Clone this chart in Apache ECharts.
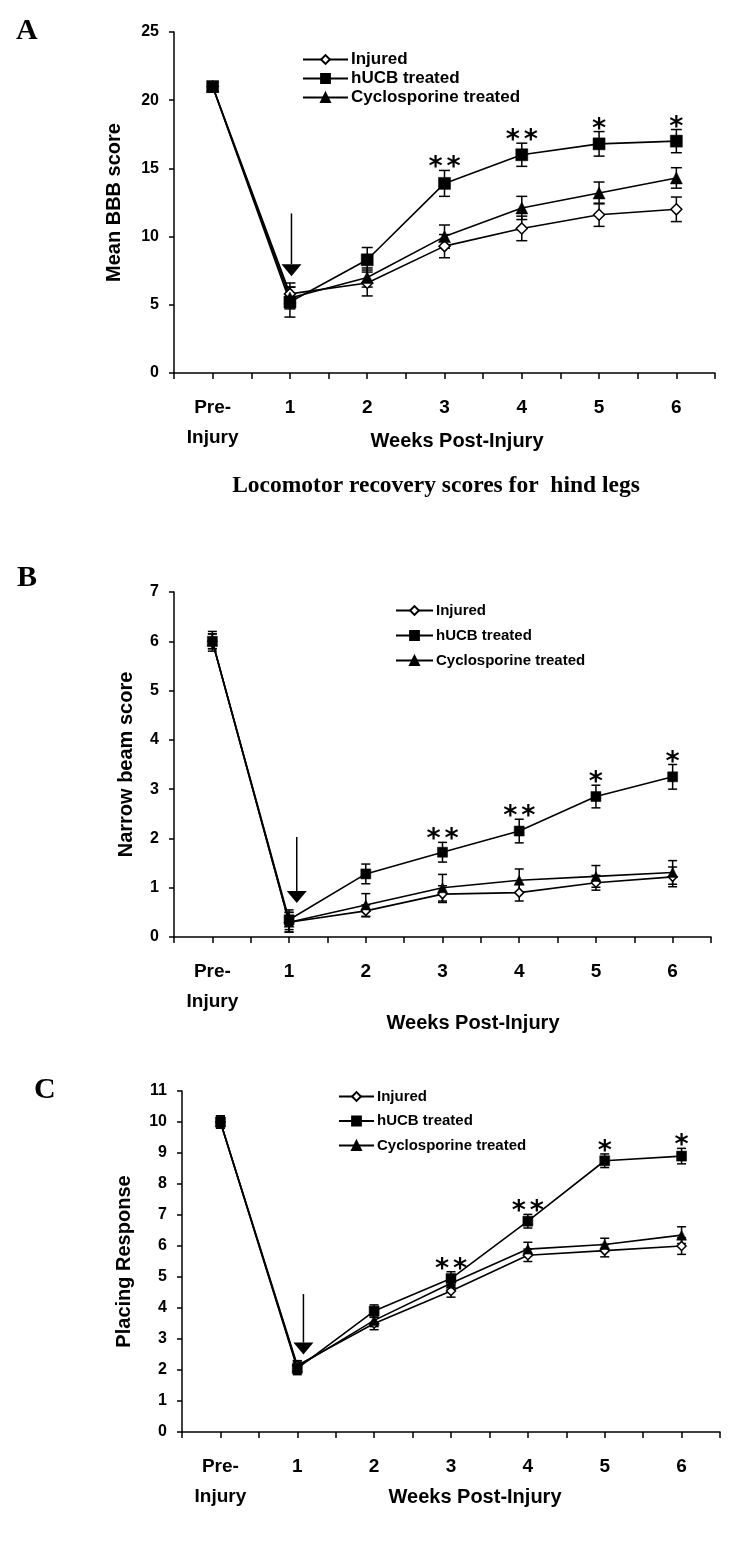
<!DOCTYPE html>
<html>
<head>
<meta charset="utf-8">
<title>Locomotor recovery</title>
<script src="https://cdn.jsdelivr.net/npm/echarts@6.0.0/dist/echarts.min.js"></script>
<style>
    html, body { margin: 0; padding: 0; background: #fff; }
    #main { width: 750px; height: 1567px; }
</style>
</head>
<body>
<div id="main"></div>
<script>
// 横轴 类别
var weeks = ['Pre-\nInjury', '1', '2', '3', '4', '5', '6'];
var groups = ['Injured', 'hUCB treated', 'Cyclosporine treated'];
var stars = ['', '', '', '**', '**', '*', '*'];

// A  Mean BBB score
var bbbInjured = [21, 5.8, 6.6, 9.3, 10.6, 11.6, 12.0];
var bbbInjuredErr = [0.3, 0.8, 0.95, 0.85, 0.9, 0.85, 0.9];
var bbbHucb = [21, 5.2, 8.3, 13.9, 16.0, 16.8, 17.0];
var bbbHucbErr = [0.3, 1.1, 0.9, 0.95, 0.85, 0.9, 0.85];
var bbbCyclo = [21, 5.5, 7.0, 10.0, 12.1, 13.2, 14.3];
var bbbCycloErr = [0.3, 0.8, 0.7, 0.85, 0.85, 0.8, 0.75];
var bbbArrow = [1.52, 11.7, 7.1];   // x, 起点, 箭头尖

// B  Narrow beam score
var beamInjured = [6.0, 0.3, 0.53, 0.87, 0.9, 1.1, 1.22];
var beamInjuredErr = [0.15, 0.2, 0.12, 0.17, 0.17, 0.15, 0.2];
var beamHucb = [6.0, 0.35, 1.28, 1.72, 2.15, 2.85, 3.25];
var beamHucbErr = [0.2, 0.2, 0.2, 0.2, 0.24, 0.23, 0.25];
var beamCyclo = [6.0, 0.3, 0.65, 1.0, 1.15, 1.23, 1.31];
var beamCycloErr = [0.15, 0.2, 0.23, 0.27, 0.23, 0.22, 0.24];
var beamArrow = [1.6, 2.03, 0.69];

// C  Placing Response
var placeInjured = [10.0, 2.15, 3.5, 4.55, 5.7, 5.85, 6.0];
var placeInjuredErr = [0.2, 0.15, 0.2, 0.2, 0.2, 0.2, 0.27];
var placeHucb = [10.0, 2.05, 3.9, 4.95, 6.8, 8.75, 8.9];
var placeHucbErr = [0.2, 0.2, 0.2, 0.22, 0.22, 0.22, 0.25];
var placeCyclo = [10.0, 2.1, 3.6, 4.8, 5.9, 6.05, 6.35];
var placeCycloErr = [0.2, 0.2, 0.2, 0.2, 0.22, 0.2, 0.27];
var placeArrow = [1.58, 4.45, 2.5];

var sans = '"Liberation Sans", Arial, sans-serif';
var serif = '"Liberation Serif", "Times New Roman", serif';

var panels = [
    {
        grid: { left: 174, right: 35, top: 32, height: 341 },
        max: 25, interval: 5, name: 'Mean BBB score', nameGap: 50,
        values: [bbbInjured, bbbHucb, bbbCyclo],
        errs: [bbbInjuredErr, bbbHucbErr, bbbCycloErr],
        arrow: bbbArrow, cap: 5.5, size: 12,
        legend: { left: 302, top: 51, itemGap: 2, itemWidth: 45, fontSize: 17 }
    },
    {
        grid: { left: 174, right: 39, top: 592, height: 345 },
        max: 7, interval: 1, name: 'Narrow beam score', nameGap: 38,
        values: [beamInjured, beamHucb, beamCyclo],
        errs: [beamInjuredErr, beamHucbErr, beamCycloErr],
        arrow: beamArrow, cap: 4.5, size: 10,
        legend: { left: 395, top: 603, itemGap: 10, itemWidth: 37, fontSize: 15 }
    },
    {
        grid: { left: 182, right: 30, top: 1091, height: 341 },
        max: 11, interval: 1, name: 'Placing Response', nameGap: 48,
        values: [placeInjured, placeHucb, placeCyclo],
        errs: [placeInjuredErr, placeHucbErr, placeCycloErr],
        arrow: placeArrow, cap: 4.5, size: 10,
        legend: { left: 338, top: 1089, itemGap: 9.5, itemWidth: 35, fontSize: 15 }
    }
];

var symbols = ['diamond', 'rect', 'triangle'];
var fills = ['#fff', '#000', '#000'];

var grids = [], xAxes = [], yAxes = [], legends = [], series = [];

panels.forEach(function (p, gi) {
    grids.push(p.grid);
    xAxes.push({
        gridIndex: gi,
        type: 'value',
        min: 0,
        max: 7,
        interval: 0.5,
        splitLine: { show: false },
        axisLine: { lineStyle: { color: '#000', width: 1.5 } },
        axisTick: { length: 6, lineStyle: { color: '#000', width: 1.5 } },
        axisLabel: {
            margin: 20,
            color: '#000',
            fontFamily: sans,
            fontWeight: 'bold',
            fontSize: 19,
            lineHeight: 30,
            formatter: function (v) {
                var k = Math.round(v - 0.5);
                if (Math.abs(v - 0.5 - k) < 1e-6 && weeks[k] !== undefined) {
                    return weeks[k];
                }
                return '';
            }
        }
    });
    yAxes.push({
        gridIndex: gi,
        type: 'value',
        min: 0,
        max: p.max,
        interval: p.interval,
        name: p.name,
        nameLocation: 'middle',
        nameGap: p.nameGap,
        nameTextStyle: { color: '#000', fontFamily: sans, fontWeight: 'bold', fontSize: 20 },
        splitLine: { show: false },
        axisLine: { show: true, lineStyle: { color: '#000', width: 1.5 } },
        axisTick: { show: true, length: 5, lineStyle: { color: '#000', width: 1.5 } },
        axisLabel: { margin: 15, color: '#000', fontFamily: sans, fontWeight: 'bold', fontSize: 16 }
    });
    legends.push({
        left: p.legend.left,
        top: p.legend.top,
        padding: 0,
        orient: 'vertical',
        itemGap: p.legend.itemGap,
        itemWidth: p.legend.itemWidth,
        itemHeight: 11,
        selectedMode: false,
        data: groups,
        textStyle: { color: '#000', fontFamily: sans, fontWeight: 'bold', fontSize: p.legend.fontSize, padding: [0, 0, 0, -2] }
    });

    // 误差线
    p.values.forEach(function (vals, si) {
        var err = p.errs[si];
        series.push({
            type: 'custom',
            xAxisIndex: gi,
            yAxisIndex: gi,
            silent: true,
            z: 1,
            data: vals.map(function (v, i) { return [i + 0.5, v, err[i]]; }),
            renderItem: function (params, api) {
                var x = api.value(0), y = api.value(1), e = api.value(2);
                var hi = api.coord([x, y + e]);
                var lo = api.coord([x, y - e]);
                var st = { stroke: '#000', lineWidth: 1.5 };
                return {
                    type: 'group',
                    children: [
                        { type: 'line', shape: { x1: hi[0], y1: hi[1], x2: lo[0], y2: lo[1] }, style: st },
                        { type: 'line', shape: { x1: hi[0] - p.cap, y1: hi[1], x2: hi[0] + p.cap, y2: hi[1] }, style: st },
                        { type: 'line', shape: { x1: lo[0] - p.cap, y1: lo[1], x2: lo[0] + p.cap, y2: lo[1] }, style: st }
                    ]
                };
            }
        });
    });

    // 折线
    p.values.forEach(function (vals, si) {
        series.push({
            name: groups[si],
            type: 'line',
            xAxisIndex: gi,
            yAxisIndex: gi,
            z: 3,
            symbol: symbols[si],
            symbolSize: si === 0 ? p.size - 1 : p.size,
            data: vals.map(function (v, i) { return [i + 0.5, v]; }),
            lineStyle: { color: '#000', width: 1.6 },
            itemStyle: { color: fills[si], borderColor: '#000', borderWidth: si === 0 ? 1.5 : 0.5 },
            emphasis: { disabled: true }
        });
    });

    // 显著性星号
    var hucb = p.values[1], hucbErr = p.errs[1];
    series.push({
        type: 'custom',
        xAxisIndex: gi,
        yAxisIndex: gi,
        silent: true,
        z: 4,
        data: hucb.map(function (v, i) { return [i + 0.5, v, hucbErr[i], i]; }).filter(function (d) { return stars[d[3]]; }),
        renderItem: function (params, api) {
            var pt = api.coord([api.value(0), api.value(1) + api.value(2)]);
            var s = stars[api.value(3)];
            var kids = [];
            for (var k = 0; k < s.length; k++) {
                kids.push({
                    type: 'text',
                    style: {
                        text: '*',
                        x: pt[0] + (k - (s.length - 1) / 2) * 18,
                        y: pt[1] - 2,
                        align: 'center',
                        verticalAlign: 'middle',
                        fontFamily: '"DejaVu Sans", sans-serif',
                        fontWeight: 'bold',
                        fontSize: 27,
                        fill: '#000'
                    }
                });
            }
            return { type: 'group', children: kids };
        }
    });

    // 箭头
    series.push({
        type: 'custom',
        xAxisIndex: gi,
        yAxisIndex: gi,
        silent: true,
        z: 5,
        data: [p.arrow],
        renderItem: function (params, api) {
            var top = api.coord([api.value(0), api.value(1)]);
            var tip = api.coord([api.value(0), api.value(2)]);
            var hw = 10, hh = 12;
            return {
                type: 'group',
                children: [
                    { type: 'line', shape: { x1: top[0], y1: top[1], x2: tip[0], y2: tip[1] - hh }, style: { stroke: '#000', lineWidth: 1.5 } },
                    { type: 'polygon', shape: { points: [[tip[0] - hw, tip[1] - hh], [tip[0] + hw, tip[1] - hh], [tip[0], tip[1]]] }, style: { fill: '#000' } }
                ]
            };
        }
    });
});

var myEchart = echarts.init(document.getElementById('main'), null, { renderer: 'canvas' });
var option = {
    backgroundColor: '#fff',
    animation: false,
    grid: grids,
    xAxis: xAxes,
    yAxis: yAxes,
    legend: legends,
    graphic: [
        { type: 'text', left: 16, top: 16, style: { text: 'A', font: 'bold 30px ' + serif, fill: '#000' } },
        { type: 'text', left: 17, top: 563, style: { text: 'B', font: 'bold 30px ' + serif, fill: '#000' } },
        { type: 'text', left: 34, top: 1075, style: { text: 'C', font: 'bold 30px ' + serif, fill: '#000' } },
        { type: 'text', x: 457, y: 441, style: { text: 'Weeks Post-Injury', font: 'bold 20px ' + sans, fill: '#000', align: 'center', verticalAlign: 'middle' } },
        { type: 'text', x: 436, y: 486, style: { text: 'Locomotor recovery scores for  hind legs', font: 'bold 23.5px ' + serif, fill: '#000', align: 'center', verticalAlign: 'middle' } },
        { type: 'text', x: 473, y: 1023, style: { text: 'Weeks Post-Injury', font: 'bold 20px ' + sans, fill: '#000', align: 'center', verticalAlign: 'middle' } },
        { type: 'text', x: 475, y: 1497, style: { text: 'Weeks Post-Injury', font: 'bold 20px ' + sans, fill: '#000', align: 'center', verticalAlign: 'middle' } }
    ],
    series: series
};
myEchart.setOption(option);
window.addEventListener('resize', function () {
    myEchart.resize();
});
</script>
</body>
</html>
